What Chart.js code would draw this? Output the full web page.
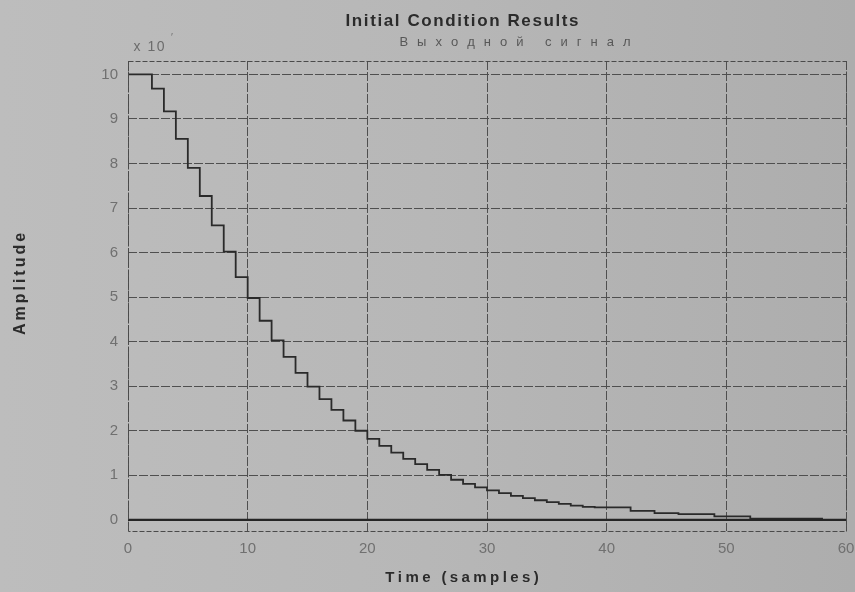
<!DOCTYPE html>
<html>
<head>
<meta charset="utf-8">
<title>Initial Condition Results</title>
<script src="https://cdn.jsdelivr.net/npm/chart.js@4.4.1/dist/chart.umd.min.js"></script>
<style>
  html, body { margin: 0; padding: 0; }
  body {
    width: 855px;
    height: 592px;
    overflow: hidden;
    background: linear-gradient(90deg, #bdbdbd 0%, #b7b7b7 50%, #adadad 100%);
  }
</style>
</head>
<body>
<canvas id="chartIC" width="855" height="592"></canvas>
<script>
// datos (respuesta a condicion inicial, escalon por muestra)
const samples = [
  0, 1, 2, 3, 4, 5, 6, 7, 8, 9, 10, 11, 12, 13, 14, 15, 16, 17, 18, 19, 20,
  21, 22, 23, 24, 25, 26, 27, 28, 29, 30, 31, 32, 33, 34, 35, 36, 37, 38, 39, 40,
  41, 42, 43, 44, 45, 46, 47, 48, 49, 50, 51, 52, 53, 54, 55, 56, 57, 58, 59, 60,
];
const amplitude = [
  10, 10, 9.68, 9.17, 8.55, 7.9, 7.27, 6.61, 6.02, 5.45, 4.98,
  4.47, 4.03, 3.66, 3.3, 2.99, 2.71, 2.47, 2.23, 2.0, 1.82,
  1.66, 1.51, 1.37, 1.25, 1.12, 1.01, 0.9, 0.81, 0.73, 0.66,
  0.6, 0.54, 0.49, 0.44, 0.4, 0.36, 0.32, 0.29, 0.28, 0.28,
  0.28, 0.2, 0.2, 0.15, 0.15, 0.13, 0.13, 0.13, 0.08, 0.08,
  0.08, 0.03, 0.03, 0.03, 0.03, 0.03, 0.03, 0, 0, 0,
];
const zeroSamples = [0, 60];
const zeroLevel = [0, 0];

const xTicks = [0, 10, 20, 30, 40, 50, 60];
const yTicks = [0, 1, 2, 3, 4, 5, 6, 7, 8, 9, 10];

const chartTitle = "Initial Condition Results";
const chartSubtitle = "Выходной сигнал";
const xLabel = "Time (samples)";
const yLabel = "Amplitude";
const yExponent = "x 10";

const font = "'Liberation Sans', Arial, sans-serif";

function drawSpaced(ctx, text, cx, cy, spacing) {
  const chars = [...text];
  const widths = chars.map((ch) => ctx.measureText(ch).width);
  const total = widths.reduce((a, b) => a + b, 0) + spacing * (chars.length - 1);
  let x = cx - total / 2;
  ctx.textAlign = "left";
  ctx.textBaseline = "middle";
  chars.forEach((ch, i) => {
    ctx.fillText(ch, x, cy);
    x += widths[i] + spacing;
  });
}

// marco punteado + textos
const decor = {
  id: "decor",
  afterDraw(chart) {
    const ctx = chart.ctx;
    const a = chart.chartArea;

    ctx.save();
    ctx.strokeStyle = "#4a4a4a";
    ctx.lineWidth = 1;
    ctx.setLineDash([5, 2]);
    ctx.strokeRect(a.left + 0.5, a.top + 0.5, a.right - a.left, a.bottom - a.top);
    ctx.setLineDash([]);

    ctx.fillStyle = "#2b2b2b";
    ctx.font = `bold 17px ${font}`;
    drawSpaced(ctx, chartTitle, 462, 21, 1.6);

    ctx.fillStyle = "#585858";
    ctx.font = `13px ${font}`;
    drawSpaced(ctx, chartSubtitle, 515, 42, 9);

    ctx.fillStyle = "#2b2b2b";
    ctx.font = `bold 15px ${font}`;
    drawSpaced(ctx, xLabel, 462, 578, 3.4);

    ctx.save();
    ctx.translate(21, 284);
    ctx.rotate(-Math.PI / 2);
    ctx.font = `bold 16px ${font}`;
    drawSpaced(ctx, yLabel, 0, 0, 3);
    ctx.restore();

    ctx.fillStyle = "#6c6c6c";
    ctx.font = `14px ${font}`;
    drawSpaced(ctx, yExponent, 149, 47, 1.5);
    ctx.font = `10px ${font}`;
    ctx.fillText("\u2032", 171, 38);
    ctx.restore();
  },
};

const stairData = samples.map((s, i) => ({ x: s, y: amplitude[i] }));
const zeroData = zeroSamples.map((s, i) => ({ x: s, y: zeroLevel[i] }));

const gridOpts = { color: "#4f4f4f", lineWidth: 1, drawTicks: false };
const tickFont = { family: font, size: 15 };

new Chart(document.getElementById("chartIC"), {
  type: "line",
  data: {
    datasets: [
      {
        data: zeroData,
        borderColor: "#252525",
        borderWidth: 2.2,
        pointRadius: 0,
      },
      {
        data: stairData,
        stepped: "before",
        borderColor: "#2a2a2a",
        borderWidth: 1.8,
        pointRadius: 0,
      },
    ],
  },
  options: {
    responsive: false,
    animation: false,
    devicePixelRatio: 1,
    layout: { padding: { top: 61, right: 9, bottom: 0, left: 0 } },
    plugins: {
      legend: { display: false },
      tooltip: { enabled: false },
      title: { display: false },
    },
    scales: {
      x: {
        type: "linear",
        min: 0,
        max: 60,
        afterBuildTicks: (s) => {
          s.ticks = xTicks.map((v) => ({ value: v }));
        },
        afterFit: (s) => {
          s.height = 61;
          s.paddingLeft = 0;
          s.paddingRight = 0;
        },
        grid: gridOpts,
        border: { display: false, dash: [9, 2] },
        ticks: {
          color: "#707070",
          font: tickFont,
          padding: 9,
          maxRotation: 0,
          autoSkip: false,
        },
      },
      y: {
        type: "linear",
        min: -0.25,
        max: 10.3,
        afterBuildTicks: (s) => {
          s.ticks = yTicks.map((v) => ({ value: v }));
        },
        afterFit: (s) => {
          s.width = 128;
          s.paddingTop = 0;
          s.paddingBottom = 0;
        },
        grid: gridOpts,
        border: { display: false, dash: [9, 2] },
        ticks: {
          color: "#707070",
          font: tickFont,
          padding: 10,
          autoSkip: false,
        },
      },
    },
  },
  plugins: [decor],
});
</script>
</body>
</html>
